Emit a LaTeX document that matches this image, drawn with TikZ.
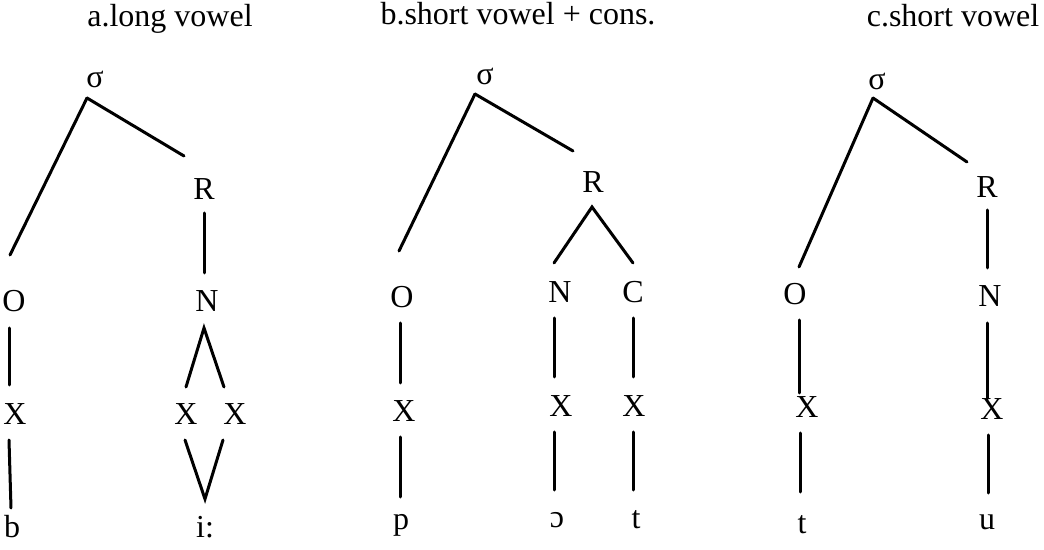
\documentclass[tikz,border=0pt]{standalone}
\usepackage{fontspec}
\setmainfont{Liberation Serif}

\begin{document}
\begin{tikzpicture}[
				x=0.5pt, y=-0.5pt,
				lbl/.style={anchor=base, inner sep=0pt, font=\fontsize{16}{19}\selectfont},
				branch/.style={line width=1.5pt, line cap=round}
				]
				\useasboundingbox (0,0) rectangle (1044,550);
				
				% a: long vowel
				\node[lbl] (titleA) at (170,27) {a.long vowel};
				\node[lbl] (sigA) at (95,88) {σ};
				\node[lbl] (RA) at (204,200) {R};
				\node[lbl] (OA) at (14,312) {O};
				\node[lbl] (NA) at (207,312) {N};
				\node[lbl] (XA) at (15,425) {X};
				\node[lbl] (XA1) at (186,425) {X};
				\node[lbl] (XA2) at (235,425) {X};
				\node[lbl] (bA) at (12,537) {b};
				\node[lbl] (iA) at (205,537) {i:};
				
				\draw[branch] ([shift={(-8,10)}]sigA.base) -- ([shift={(-4,-57)}]OA.base);
				\draw[branch] ([shift={(-8,10)}]sigA.base) -- ([shift={(-20,-44)}]RA.base);
				\draw[branch] ([shift={(0,13)}]RA.base) -- ([shift={(-3,-39)}]NA.base);
				\draw[branch] ([shift={(-5,16)}]OA.base) -- ([shift={(-6,-40)}]XA.base);
				\draw[branch] ([shift={(-6,15)}]XA.base) -- ([shift={(-1,-29)}]bA.base);
				\draw[branch] ([shift={(0,-38)}]XA1.base) -- ([shift={(-3,16)}]NA.base) -- ([shift={(-11,-38)}]XA2.base);
				\draw[branch] ([shift={(-1,15)}]XA1.base) -- ([shift={(0,-38)}]iA.base) -- ([shift={(-12,15)}]XA2.base);
				
				% b: short vowel + consonant
				\node[lbl] (titleB) at (518,25) {b.short vowel + cons.};
				\node[lbl] (sigB) at (485,85) {σ};
				\node[lbl] (RB) at (593,193) {R};
				\node[lbl] (OB) at (402,308) {O};
				\node[lbl] (NB) at (560,303) {N};
				\node[lbl] (CB) at (633,303) {C};
				\node[lbl] (XB) at (404,422) {X};
				\node[lbl] (XB1) at (561,417) {X};
				\node[lbl] (XB2) at (634,417) {X};
				\node[lbl] (pB) at (401,530) {p};
				\node[lbl] (oB) at (557,527) {ɔ};
				\node[lbl] (tB) at (636,528) {t};
				
				\draw[branch] ([shift={(-10,9)}]sigB.base) -- ([shift={(-3,-57)}]OB.base);
				\draw[branch] ([shift={(-10,9)}]sigB.base) -- ([shift={(-20,-42)}]RB.base);
				\draw[branch] ([shift={(-6,-40)}]NB.base) -- ([shift={(-1,14)}]RB.base) -- ([shift={(0,-40)}]CB.base);
				\draw[branch] ([shift={(-2,15)}]OB.base) -- ([shift={(-4,-39)}]XB.base);
				\draw[branch] ([shift={(-4,15)}]XB.base) -- ([shift={(-1,-33)}]pB.base);
				\draw[branch] ([shift={(-6,15)}]NB.base) -- ([shift={(-7,-40)}]XB1.base);
				\draw[branch] ([shift={(-7,15)}]XB1.base) -- ([shift={(-3,-37)}]oB.base);
				\draw[branch] ([shift={(0,15)}]CB.base) -- ([shift={(-1,-40)}]XB2.base);
				\draw[branch] ([shift={(-1,15)}]XB2.base) -- ([shift={(-3,-38)}]tB.base);
				
				% c: short vowel
				\node[lbl] (titleC) at (953,27) {c.short vowel};
				\node[lbl] (sigC) at (877,90) {σ};
				\node[lbl] (RC) at (987,198) {R};
				\node[lbl] (OC) at (795,305) {O};
				\node[lbl] (NC) at (990,307) {N};
				\node[lbl] (XC) at (807,418) {X};
				\node[lbl] (XC2) at (992,420) {X};
				\node[lbl] (tC) at (802,533) {t};
				\node[lbl] (uC) at (987,530) {u};
				
				\draw[branch] ([shift={(-4,8)}]sigC.base) -- ([shift={(4,-38)}]OC.base);
				\draw[branch] ([shift={(-4,8)}]sigC.base) -- ([shift={(-20,-36)}]RC.base);
				\draw[branch] ([shift={(0,12)}]RC.base) -- ([shift={(-3,-39)}]NC.base);
				\draw[branch] ([shift={(4,15)}]OC.base) -- ([shift={(-8,-25)}]XC.base);
				\draw[branch] ([shift={(-3,16)}]NC.base) -- ([shift={(-5,-22)}]XC2.base);
				\draw[branch] ([shift={(-7,15)}]XC.base) -- ([shift={(-2,-41)}]tC.base);
				\draw[branch] ([shift={(-4,15)}]XC2.base) -- ([shift={(1,-37)}]uC.base);
			\end{tikzpicture}
\end{document}
